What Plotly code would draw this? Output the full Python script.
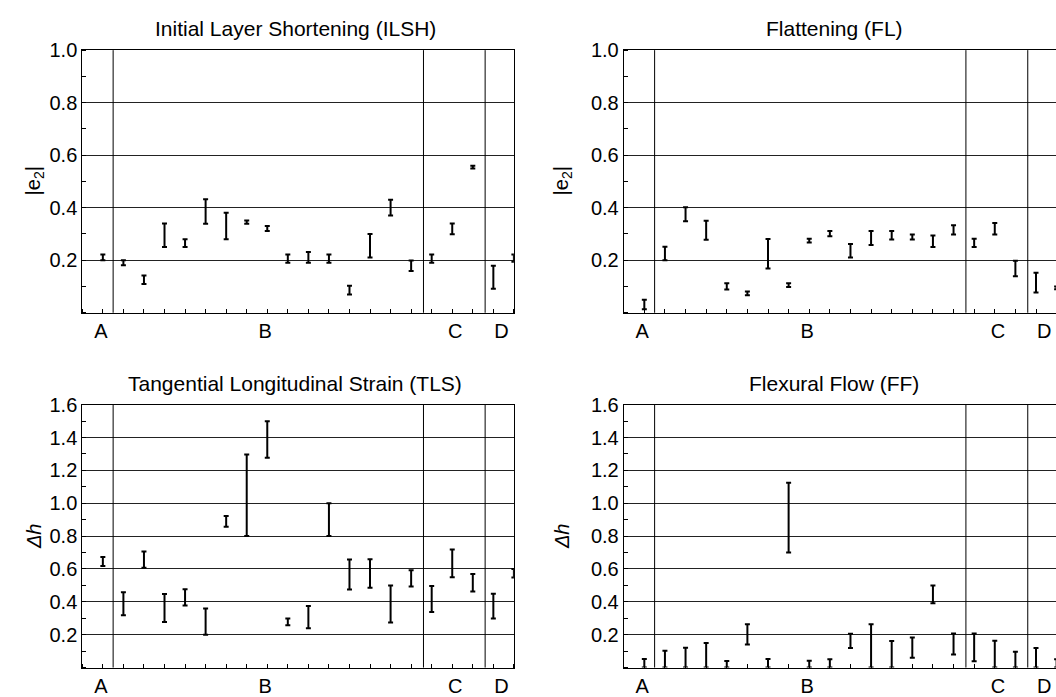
import plotly.graph_objects as go

# ---------------- data ----------------
positions = list(range(1, 22))
group_labels = ["A", "B", "C", "D"]
group_label_pos = [0.9, 8.9, 18.15, 20.4]
separators = [1.5, 16.6, 19.6]

ilsh_low = [0.200, 0.181, 0.110, 0.250, 0.250, 0.339, 0.280, 0.339, 0.311, 0.190, 0.190,
            0.190, 0.070, 0.210, 0.370, 0.159, 0.190, 0.299, 0.549, 0.091, 0.194]
ilsh_high = [0.222, 0.200, 0.142, 0.340, 0.280, 0.432, 0.381, 0.351, 0.330, 0.222, 0.231,
             0.222, 0.103, 0.300, 0.430, 0.199, 0.222, 0.340, 0.560, 0.179, 0.222]

fl_low = [0.013, 0.200, 0.348, 0.278, 0.089, 0.067, 0.169, 0.098, 0.268, 0.291, 0.210,
          0.258, 0.279, 0.279, 0.250, 0.298, 0.250, 0.298, 0.139, 0.077, 0.090]
fl_high = [0.050, 0.251, 0.402, 0.350, 0.112, 0.081, 0.281, 0.112, 0.282, 0.311, 0.262,
           0.311, 0.311, 0.298, 0.294, 0.333, 0.282, 0.342, 0.198, 0.152, 0.100]

tls_low = [0.618, 0.318, 0.608, 0.278, 0.378, 0.200, 0.857, 0.800, 1.277, 0.258, 0.239,
           0.800, 0.475, 0.485, 0.274, 0.493, 0.338, 0.549, 0.463, 0.298, 0.548]
tls_high = [0.673, 0.459, 0.707, 0.447, 0.477, 0.360, 0.923, 1.297, 1.499, 0.298, 0.374,
            1.000, 0.658, 0.659, 0.499, 0.592, 0.497, 0.719, 0.570, 0.449, 0.600]

ff_low = [0.0, 0.0, 0.0, 0.0, 0.0, 0.141, 0.0, 0.700, 0.0, 0.0, 0.119,
          0.0, 0.0, 0.060, 0.392, 0.080, 0.038, 0.0, 0.0, 0.0, 0.0]
ff_high = [0.052, 0.103, 0.121, 0.149, 0.040, 0.263, 0.052, 1.124, 0.042, 0.050, 0.205,
           0.263, 0.161, 0.183, 0.500, 0.207, 0.207, 0.163, 0.096, 0.119, 0.050]

titles = ["Initial Layer Shortening (ILSH)", "Flattening (FL)",
          "Tangential Longitudinal Strain (TLS)", "Flexural Flow (FF)"]
ylabels = ["|e<sub>2</sub>|", "|e<sub>2</sub>|", "<i>Δh</i>", "<i>Δh</i>"]
top_ticks = [0.2, 0.4, 0.6, 0.8, 1.0]
bottom_ticks = [0.2, 0.4, 0.6, 0.8, 1.0, 1.2, 1.4, 1.6]

# ---------------- layout geometry (pixels) ----------------
W, H = 1056, 697
FONT = "Liberation Sans, Arial, sans-serif"

def px_x(p):
    return p / W

def px_y(p):
    return 1 - p / H

panels = [
    (ilsh_low, ilsh_high, (82.3, 513.9), (40, 308.4), [0, 1.0], top_ticks, [0, 21], True),
    (fl_low, fl_high, (623.7, 1056), (40, 308.4), [0, 1.0], top_ticks, [0, 20.97], False),
    (tls_low, tls_high, (82.3, 513.9), (402.3, 671), [0, 1.6], bottom_ticks, [0, 21], True),
    (ff_low, ff_high, (623.7, 1056), (402.3, 671), [0, 1.6], bottom_ticks, [0, 20.97], False),
]

fig = go.Figure()
annotations = []
shapes = []

for i, (lo, hi, xd, yd, yr, yt, xr, mir) in enumerate(panels):
    n = i + 1
    xa = "xaxis" if n == 1 else f"xaxis{n}"
    ya = "yaxis" if n == 1 else f"yaxis{n}"
    xref = "x" if n == 1 else f"x{n}"
    yref = "y" if n == 1 else f"y{n}"

    fig.add_trace(go.Scatter(
        x=positions, y=lo, mode="markers",
        marker=dict(size=1, opacity=0),
        error_y=dict(type="data", symmetric=False,
                     array=[h - l for h, l in zip(hi, lo)],
                     arrayminus=[0] * len(lo),
                     color="black", thickness=2, width=2.5),
        xaxis=xref, yaxis=yref, showlegend=False, hoverinfo="skip",
    ))

    fig.layout[xa] = dict(
        domain=[px_x(xd[0]), px_x(xd[1])], range=xr, anchor=yref,
        showgrid=False, zeroline=False,
        showline=True, linecolor="black", linewidth=1, mirror=True,
        tickmode="array", tickvals=group_label_pos, ticktext=group_labels,
        ticks="", tickfont=dict(family=FONT, size=20, color="black"),
        minor=dict(tickmode="linear", tick0=0, dtick=1, ticks="inside",
                   ticklen=4, tickcolor="black", tickwidth=1, showgrid=False),
        fixedrange=True,
    )
    fig.layout[ya] = dict(
        domain=[px_y(yd[1]), px_y(yd[0])], range=yr, anchor=xref,
        showgrid=True, gridcolor="#222222", gridwidth=1, zeroline=False,
        showline=True, linecolor="black", linewidth=1, mirror=mir,
        tickmode="array", tickvals=yt, ticktext=[f"{v:.1f}" for v in yt],
        ticks="", tickfont=dict(family=FONT, size=20, color="black"),
        minor=dict(tickmode="linear", tick0=0, dtick=0.1, ticks="inside",
                   ticklen=4, tickcolor="black", tickwidth=1, showgrid=False),
        fixedrange=True,
    )

    for s in separators:
        shapes.append(dict(type="line", xref=xref, yref=f"{yref} domain",
                           x0=s, x1=s, y0=0, y1=1,
                           line=dict(color="black", width=1)))

    title_x = 295 if xd[0] < 300 else 834
    title_y = yd[0] - 22
    annotations.append(dict(text=titles[i], x=px_x(title_x), y=px_y(title_y),
                            xref="paper", yref="paper", showarrow=False,
                            xanchor="center", yanchor="middle",
                            font=dict(family=FONT, size=21, color="black")))
    ylab_x = 34 if xd[0] < 300 else 562
    annotations.append(dict(text=ylabels[i], x=px_x(ylab_x),
                            y=px_y((yd[0] + yd[1]) / 2),
                            xref="paper", yref="paper", showarrow=False,
                            textangle=-90, xanchor="center", yanchor="middle",
                            font=dict(family=FONT, size=20, color="black")))

fig.update_layout(
    width=W, height=H,
    margin=dict(l=0, r=0, t=0, b=0),
    paper_bgcolor="white", plot_bgcolor="white",
    annotations=annotations, shapes=shapes,
    showlegend=False,
)

fig.write_html("out.html", config={"displayModeBar": False})
